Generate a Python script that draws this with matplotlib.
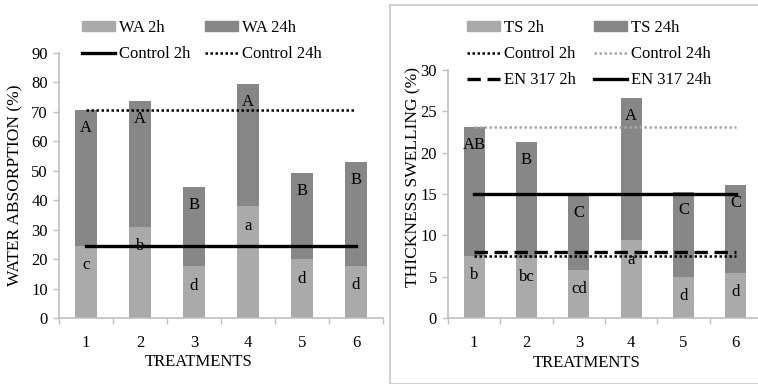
import numpy as np
import matplotlib
matplotlib.use('Agg')
import matplotlib.pyplot as plt
from matplotlib.patches import Patch
from matplotlib.lines import Line2D

plt.rcParams['font.family'] = ['Liberation Serif', 'DejaVu Serif']
plt.rcParams['font.size'] = 12

# data
treatments = ['1', '2', '3', '4', '5', '6']
wa_2h = [24.5, 31.0, 17.5, 38.0, 20.0, 17.7]
wa_24h = [70.7, 73.7, 44.5, 79.5, 49.2, 53.0]
wa_2h_lab = ['c', 'b', 'd', 'a', 'd', 'd']
wa_24h_lab = ['A', 'A', 'B', 'A', 'B', 'B']
wa_ctrl_2h = 24.5
wa_ctrl_24h = 70.7

ts_2h = [7.5, 7.3, 5.8, 9.4, 5.0, 5.5]
ts_24h = [23.1, 21.3, 14.9, 26.6, 15.3, 16.1]
ts_2h_lab = ['b', 'bc', 'cd', 'a', 'd', 'd']
ts_24h_lab = ['AB', 'B', 'C', 'A', 'C', 'C']
ts_ctrl_2h = 7.45
ts_ctrl_24h = 23.1
en317_2h = 8.0
en317_24h = 15.0

c2 = '#aaaaaa'
c24 = '#878787'
axcol = '#bfbfbf'
dot = (0, (1, 1))

W, H = 758, 384
fig = plt.figure(figsize=(W/100, H/100), dpi=100)

def px(x0, y0, x1, y1):
    return [x0/W, 1-y1/H, (x1-x0)/W, (y1-y0)/H]

def style(ax, ymax, step):
    x = np.arange(len(treatments))
    ax.set_xlim(-0.5, len(treatments)-0.5)
    ax.set_ylim(0, ymax)
    ax.set_yticks(np.arange(0, ymax+0.1, step))
    ax.set_xticks(x)
    ax.set_xticklabels(treatments)
    ax.set_xticks(np.arange(-0.5, len(treatments)), minor=True)
    ax.tick_params(axis='x', which='major', length=0, pad=12)
    ax.tick_params(axis='x', which='minor', length=4, color=axcol, width=1)
    ax.tick_params(axis='y', length=4, color=axcol, width=1, pad=4)
    for s in ['top', 'right']:
        ax.spines[s].set_visible(False)
    for s in ['left', 'bottom']:
        ax.spines[s].set_color(axcol)
        ax.spines[s].set_linewidth(1.2)
    ax.patch.set_alpha(0)

def bars(ax, lo, hi, lo_lab, hi_lab):
    x = np.arange(len(treatments))
    ax.bar(x, hi, width=0.4, color=c24, zorder=2)
    ax.bar(x, lo, width=0.4, color=c2, zorder=2)
    for i in range(len(x)):
        ax.annotate(hi_lab[i], (x[i], hi[i]), xytext=(0, -13),
                    textcoords='offset points', ha='center', va='center', zorder=5)
        ax.annotate(lo_lab[i], (x[i], lo[i]), xytext=(0, -14),
                    textcoords='offset points', ha='center', va='center', zorder=5)

# water absorption
ax1 = fig.add_axes(px(59, 53, 383, 318))
style(ax1, 90, 10)
bars(ax1, wa_2h, wa_24h, wa_2h_lab, wa_24h_lab)
ax1.plot([0, 5], [wa_ctrl_2h]*2, color='black', lw=2.4, zorder=4)
ax1.plot([0, 5], [wa_ctrl_24h]*2, color='black', lw=1.8, ls=dot, zorder=4)
ax1.set_ylabel('WATER ABSORPTION (%)', fontsize=12.5)
ax1.yaxis.set_label_coords(-0.11, 0.5)
ax1.set_xlabel('TREATMENTS', fontsize=12)
ax1.xaxis.set_label_coords(0.43, -0.135)

h1 = [Patch(color=c2), Line2D([], [], color='black', lw=2.4),
      Patch(color=c24), Line2D([], [], color='black', lw=1.8, ls=dot)]
l1 = ['WA 2h', 'Control 2h', 'WA 24h', 'Control 24h']
fig.legend(h1, l1, ncol=2, loc='upper left', bbox_to_anchor=(82/W, 1-20/H),
           frameon=False, borderpad=0, borderaxespad=0, handlelength=2.0,
           handleheight=0.55, handletextpad=0.2, columnspacing=0.9,
           labelspacing=0.6)

# thickness swelling
fig.add_artist(plt.Rectangle((390/W, 0), 1, 1-5/H, transform=fig.transFigure,
                             fill=False, edgecolor='#c8c8c8', lw=1.2))
ax2 = fig.add_axes(px(448, 70, 762, 318))
style(ax2, 30, 5)
bars(ax2, ts_2h, ts_24h, ts_2h_lab, ts_24h_lab)
ax2.plot([0, 5], [ts_ctrl_2h]*2, color='black', lw=1.8, ls=dot, zorder=4)
ax2.plot([0, 5], [ts_ctrl_24h]*2, color='#a6a6a6', lw=1.8, ls=dot, zorder=4)
ax2.plot([0, 5], [en317_2h]*2, color='black', lw=2.4, ls=(0, (4, 2)), zorder=4)
ax2.plot([0, 5], [en317_24h]*2, color='black', lw=2.4, zorder=4)
ax2.set_ylabel('THICKNESS SWELLING (%)', fontsize=12.5)
ax2.yaxis.set_label_coords(-0.085, 0.57)
ax2.set_xlabel('TREATMENTS', fontsize=12)
ax2.xaxis.set_label_coords(0.44, -0.15)

h2 = [Patch(color=c2), Line2D([], [], color='black', lw=1.8, ls=dot),
      Line2D([], [], color='black', lw=2.4, ls=(0, (4, 2))),
      Patch(color=c24), Line2D([], [], color='#a6a6a6', lw=1.8, ls=dot),
      Line2D([], [], color='black', lw=2.4)]
l2 = ['TS 2h', 'Control 2h', 'EN 317 2h', 'TS 24h', 'Control 24h', 'EN 317 24h']
fig.legend(h2, l2, ncol=2, loc='upper left', bbox_to_anchor=(467/W, 1-20/H),
           frameon=False, borderpad=0, borderaxespad=0, handlelength=2.0,
           handleheight=0.55, handletextpad=0.2, columnspacing=1.1,
           labelspacing=0.6)

fig.savefig('out.png', dpi=100)
